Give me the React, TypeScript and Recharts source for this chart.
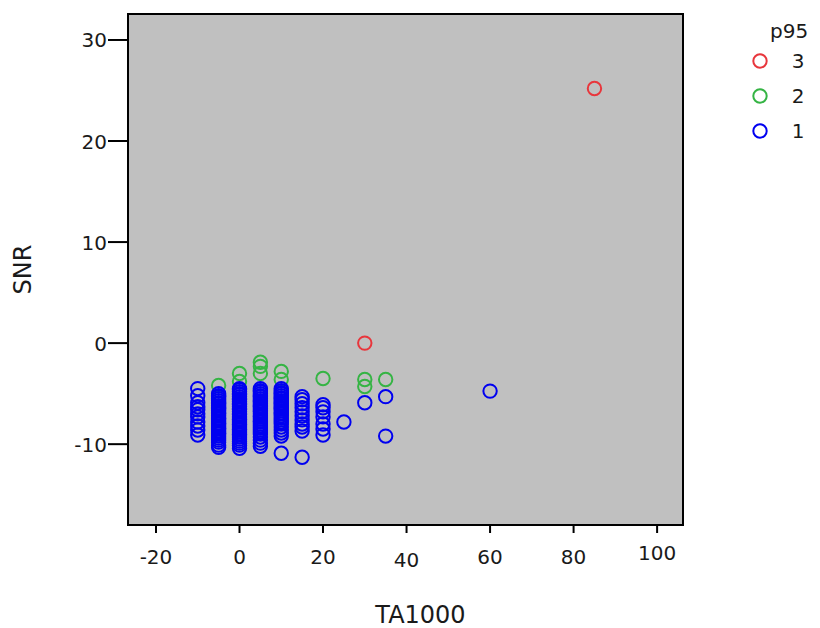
import React from "react"
import { ReferenceArea, Scatter, ScatterChart, XAxis, YAxis } from "recharts"

// TA1000 / SNR pairs per p95 group
const p95Group3: [number, number][] = [
  [30, 0],
  [85, 25.2],
]

const p95Group2: [number, number][] = [
  [-5, -4.2],
  [0, -3.0], [0, -3.8],
  [5, -1.9], [5, -2.3], [5, -3.0],
  [10, -2.8], [10, -3.6],
  [20, -3.5],
  [30, -3.6], [30, -4.3],
  [35, -3.6],
]

const blueAtMinus10 = [-4.5, -5.2, -5.9, -6.3, -6.6, -7.0, -7.3, -7.8, -8.2, -8.6, -9.1]
const blueAtMinus5 = [
  -5.0, -5.2, -5.3, -5.5, -5.7, -5.9, -6.0, -6.2, -6.4, -6.5, -6.7, -6.9, -7.0, -7.2, -7.4, -7.5,
  -7.7, -7.9, -8.0, -8.2, -8.4, -8.5, -8.7, -8.9, -9.0, -9.2, -9.4, -9.6, -9.8, -10.1, -10.3,
]
const blueAt0 = [
  -4.5, -4.6, -4.8, -5.0, -5.1, -5.3, -5.5, -5.6, -5.8, -6.0, -6.1, -6.3, -6.5, -6.6, -6.8, -7.0,
  -7.1, -7.3, -7.5, -7.6, -7.8, -8.0, -8.1, -8.3, -8.5, -8.6, -8.8, -9.0, -9.1, -9.3, -9.5, -9.7,
  -9.9, -10.1, -10.4,
]
const blueAt5 = [
  -4.5, -4.7, -4.8, -5.0, -5.2, -5.3, -5.5, -5.7, -5.8, -6.0, -6.2, -6.3, -6.5, -6.7, -6.8, -7.0,
  -7.2, -7.3, -7.5, -7.7, -7.8, -8.0, -8.2, -8.4, -8.6, -8.8, -9.0, -9.3, -9.6, -9.9, -10.2,
]
const blueAt10 = [
  -4.5, -4.7, -4.9, -5.0, -5.2, -5.4, -5.5, -5.7, -5.9, -6.0, -6.2, -6.4, -6.5, -6.7, -6.9, -7.0,
  -7.2, -7.4, -7.6, -7.8, -8.0, -8.3, -8.6, -8.9, -9.2, -10.9,
]
const blueAt15 = [-5.3, -5.6, -6.0, -6.4, -6.8, -7.2, -7.6, -8.0, -8.3, -8.7, -11.3]
const blueAt20 = [-6.1, -6.4, -6.8, -7.3, -8.0, -8.5, -9.1]
const blueOthers: [number, number][] = [
  [25, -7.8],
  [30, -5.9],
  [35, -5.3], [35, -9.2],
  [60, -4.75],
]

const xTicks = [-20, 0, 20, 40, 60, 80, 100]
const yTicks = [-10, 0, 10, 20, 30]
const xDomain = [-26.7, 106.2]
const yDomain = [-18.0, 32.57]

const groups = [
  { name: "3", color: "#e8363c" },
  { name: "2", color: "#35b444" },
  { name: "1", color: "#0000f0" },
]

const FONT = "'DejaVu Sans', Verdana, sans-serif"

const toPoints = (pairs: [number, number][]) => pairs.map(([x, y]) => ({ x, y }))
const column = (x: number, ys: number[]) => ys.map((y) => ({ x, y }))

const data3 = toPoints(p95Group3)
const data2 = toPoints(p95Group2)
const data1 = [
  ...column(-10, blueAtMinus10),
  ...column(-5, blueAtMinus5),
  ...column(0, blueAt0),
  ...column(5, blueAt5),
  ...column(10, blueAt10),
  ...column(15, blueAt15),
  ...column(20, blueAt20),
  ...toPoints(blueOthers),
]

const ring = (color: string) => (props: any) =>
  <circle cx={props.cx} cy={props.cy} r={6.7} fill="none" stroke={color} strokeWidth={2} />

// small vertical offsets seen on some x labels in the original
const xLabelShift: Record<number, number> = { 40: 3, 100: -4 }

const XTick = (props: any) => {
  const { x, y, payload } = props
  return (
    <text x={x} y={y + 29 + (xLabelShift[payload.value] || 0)} textAnchor="middle" fontSize={20} fontFamily={FONT} fill="#1a1a1a">
      {payload.value}
    </text>
  )
}

const YTick = (props: any) => {
  const { x, y, payload } = props
  return (
    <text x={x + 1} y={y + 7.5} textAnchor="end" fontSize={20} fontFamily={FONT} fill="#1a1a1a">
      {payload.value}
    </text>
  )
}

const P95Legend = () => (
  <svg width={80} height={130} style={{ position: "absolute", left: 745, top: 16 }}>
    <text x={25} y={22} fontSize={20} fontFamily={FONT} fill="#1a1a1a">p95</text>
    {groups.map((g, i) => (
      <g key={g.name}>
        <circle cx={15} cy={45 + i * 35} r={6.7} fill="none" stroke={g.color} strokeWidth={2} />
        <text x={53} y={52 + i * 35} textAnchor="middle" fontSize={20} fontFamily={FONT} fill="#1a1a1a">{g.name}</text>
      </g>
    ))}
  </svg>
)

export default function App() {
  return (
    <div style={{ position: "absolute", left: 0, top: 0, width: 820, height: 628, background: "#fff" }}>
      <ScatterChart width={820} height={628} margin={{ top: 14, right: 137, bottom: 0, left: 0 }}>
        <XAxis
          type="number"
          dataKey="x"
          domain={xDomain}
          ticks={xTicks}
          allowDataOverflow
          height={103}
          tickSize={8}
          tick={<XTick />}
          axisLine={{ stroke: "#000", strokeWidth: 2 }}
          tickLine={{ stroke: "#000", strokeWidth: 2 }}
          label={(p: any) => (
            <text
              x={p.viewBox.x + p.viewBox.width / 2 + 15}
              y={p.viewBox.y + 98}
              textAnchor="middle"
              fontSize={24}
              fontFamily={FONT}
              fill="#1a1a1a"
            >
              TA1000
            </text>
          )}
        />
        <YAxis
          type="number"
          dataKey="y"
          domain={yDomain}
          ticks={yTicks}
          allowDataOverflow
          width={128}
          tickSize={20}
          tick={<YTick />}
          axisLine={{ stroke: "#000", strokeWidth: 2 }}
          tickLine={{ stroke: "#000", strokeWidth: 2 }}
          label={(p: any) => (
            <text
              x={p.viewBox.x + 31}
              y={p.viewBox.y + p.viewBox.height / 2}
              textAnchor="middle"
              fontSize={24}
              fontFamily={FONT}
              fill="#1a1a1a"
              transform={`rotate(-90 ${p.viewBox.x + 31} ${p.viewBox.y + p.viewBox.height / 2})`}
            >
              SNR
            </text>
          )}
        />
        <ReferenceArea
          x1={xDomain[0]}
          x2={xDomain[1]}
          y1={yDomain[0]}
          y2={yDomain[1]}
          fill="#c0c0c0"
          fillOpacity={1}
          stroke="#000"
          strokeWidth={2}
        />
        <Scatter name="3" data={data3} shape={ring(groups[0].color)} isAnimationActive={false} />
        <Scatter name="2" data={data2} shape={ring(groups[1].color)} isAnimationActive={false} />
        <Scatter name="1" data={data1} shape={ring(groups[2].color)} isAnimationActive={false} />
      </ScatterChart>
      <P95Legend />
    </div>
  )
}
